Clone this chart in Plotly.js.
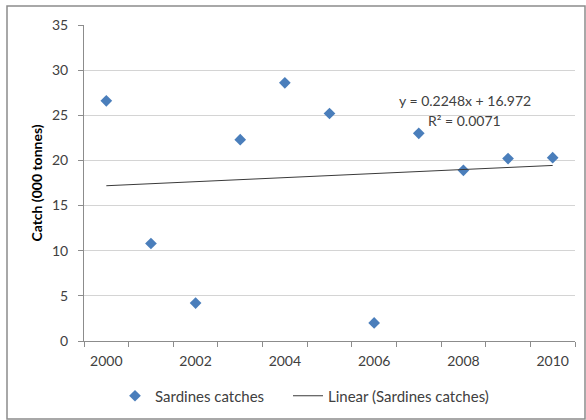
<!DOCTYPE html>
<html>
<head>
<meta charset="utf-8">
<script src="https://cdn.plot.ly/plotly-3.0.1.min.js"></script>
<style>html,body{margin:0;padding:0;background:#fff;}#chart{width:586px;height:420px;}</style>
</head>
<body>
<div id="chart"></div>
<script>
const years = [2000, 2001, 2002, 2003, 2004, 2005, 2006, 2007, 2008, 2009, 2010];
const catches = [26.6, 10.8, 4.2, 22.3, 28.6, 25.2, 2.0, 23.0, 18.9, 20.2, 20.3];
const xTickVals = [2000, 2002, 2004, 2006, 2008, 2010];
const xTickText = ['2000', '2002', '2004', '2006', '2008', '2010'];
const slope = 0.2248;
const intercept = 16.972;
const r2 = 0.0071;

// Excel trendline uses point index 1..n as x
const trendX = [years[0], years[years.length - 1]];
const trendY = [slope * 1 + intercept, slope * years.length + intercept];

const font = 'Lato, "Open Sans", "Liberation Sans", sans-serif';
const gray = '#404040';

const traces = [
  {
    x: years, y: catches, type: 'scatter', mode: 'markers',
    name: 'Sardines catches', legend: 'legend',
    marker: {symbol: 'diamond', size: 9, color: '#4a7ebb'}
  },
  {
    x: trendX, y: trendY, type: 'scatter', mode: 'lines',
    name: 'Linear (Sardines catches)', legend: 'legend2',
    line: {color: '#3a3a3a', width: 1}
  }
];

const legendFont = {family: font, size: 15, color: gray};

const layout = {
  width: 586, height: 420,
  margin: {l: 84, r: 11, t: 25, b: 79},
  paper_bgcolor: '#fff', plot_bgcolor: '#fff',
  font: {family: font, size: 14, color: gray},
  showlegend: true,
  legend: {orientation: 'h', x: 115 / 586, xref: 'container', xanchor: 'left',
           y: (420 - 396) / 420, yref: 'container', yanchor: 'middle',
           font: legendFont, bgcolor: 'rgba(0,0,0,0)'},
  legend2: {orientation: 'h', x: 288 / 586, xref: 'container', xanchor: 'left',
           y: (420 - 396) / 420, yref: 'container', yanchor: 'middle',
           font: legendFont, bgcolor: 'rgba(0,0,0,0)'},
  xaxis: {
    range: [1999.5, 2010.5], tickvals: xTickVals, ticktext: xTickText,
    ticks: '', showgrid: false, zeroline: false, automargin: false,
    showline: true, linecolor: '#8c8c8c', linewidth: 1,
    ticklabelstandoff: 7,
    tickfont: {family: font, size: 14, color: gray},
    minor: {tick0: 1999.5, dtick: 1, ticks: 'outside', ticklen: 5, tickcolor: '#8c8c8c', showgrid: false}
  },
  yaxis: {
    range: [0, 35], dtick: 5, tick0: 0, automargin: false,
    showgrid: true, gridcolor: '#d4d4d4', gridwidth: 1,
    zeroline: false, showline: true, linecolor: '#8c8c8c', linewidth: 1,
    ticks: 'outside', ticklen: 5, tickcolor: '#8c8c8c',
    ticklabelstandoff: 7,
    tickfont: {family: font, size: 14, color: gray},
    title: {text: '<b>Catch (000 tonnes)</b>', font: {family: font, size: 14, color: '#000'}, standoff: 6}
  },
  annotations: [
    {xref: 'paper', yref: 'paper', x: (465 - 84) / 491, y: (341 - 101) / 316,
     text: 'y = ' + slope + 'x + ' + intercept, showarrow: false,
     font: {family: font, size: 14, color: gray}, xanchor: 'center', yanchor: 'middle'},
    {xref: 'paper', yref: 'paper', x: (464 - 84) / 491, y: (341 - 120) / 316,
     text: 'R² = ' + r2, showarrow: false,
     font: {family: font, size: 14, color: gray}, xanchor: 'center', yanchor: 'middle'}
  ],
  shapes: [
    {type: 'rect', xref: 'paper', yref: 'paper',
     x0: (7 - 84) / 491, x1: (585 - 84) / 491, y0: (341 - 419) / 316, y1: (341 - 6) / 316,
     line: {color: '#8c8c8c', width: 1.5}, fillcolor: 'rgba(0,0,0,0)', layer: 'below'}
  ]
};

Plotly.newPlot('chart', traces, layout, {displayModeBar: false, staticPlot: true});
</script>
</body>
</html>
